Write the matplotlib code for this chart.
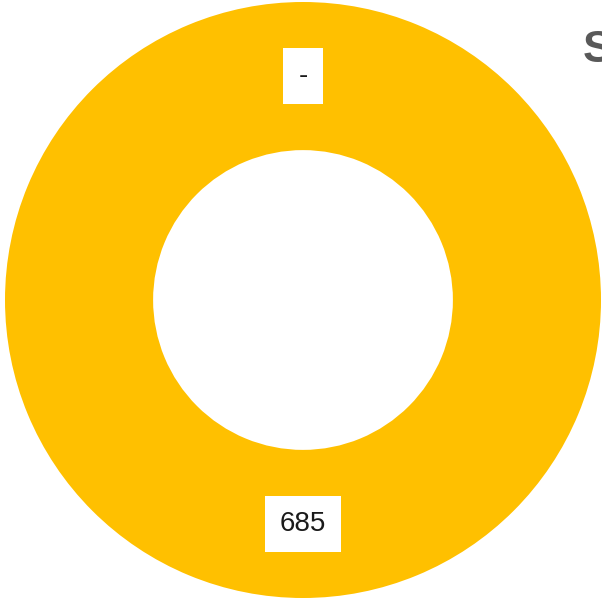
import matplotlib
matplotlib.use("Agg")
import matplotlib.pyplot as plt
import numpy as np

# data
categories = ["Other", "Total"]
values = [0, 685]
value_labels = ["-", "685"]
colors = ["#ED7D31", "#FFC000"]
title_text = "S"

fig = plt.figure(figsize=(6.02, 6.0), dpi=100)
ax = fig.add_axes([0, 0, 1, 1])

R = 298.0  # outer radius in px
cx, cy = 303.0, 300.0
wedges, _ = ax.pie(values, colors=colors, startangle=90, counterclock=False,
                   radius=1.0, wedgeprops=dict(width=0.497, edgecolor="none"))

ax.set_xlim(-cx / R, (602 - cx) / R)
ax.set_ylim(-(600 - cy) / R, cy / R)
ax.set_aspect("auto")
ax.axis("off")

mid_r = 1.0 - 0.497 / 2
for w, lab in zip(wedges, value_labels):
    ang = np.deg2rad((w.theta1 + w.theta2) / 2)
    if w.theta2 - w.theta1 == 0:
        ang = np.deg2rad(90)
    x, y = mid_r * np.cos(ang), mid_r * np.sin(ang)
    ax.text(x, y, lab, ha="center", va="center", fontsize=20,
            family="Liberation Sans", color="#1a1a1a",
            bbox=dict(boxstyle="square,pad=0.55", fc="white", ec="none"))

fig.text(583 / 602, 1 - 51 / 600, title_text, ha="left", va="center",
         fontsize=32, fontweight="bold", family="Liberation Sans", color="#595959")

fig.savefig("out.png", dpi=100)
